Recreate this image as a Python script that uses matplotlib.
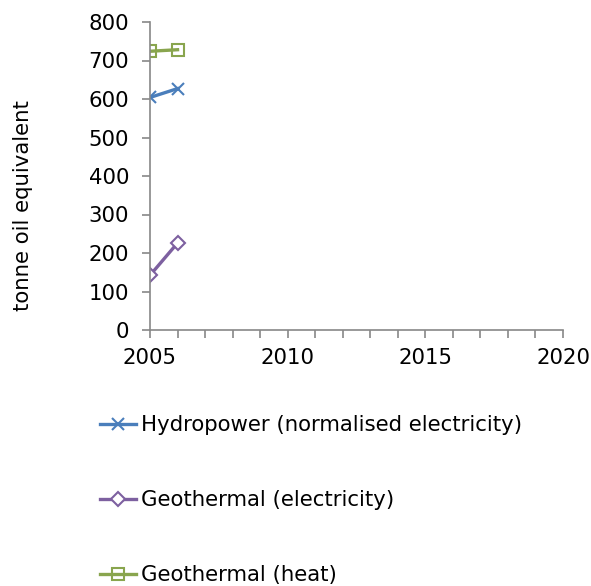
import matplotlib
matplotlib.use("Agg")
import matplotlib.pyplot as plt
from matplotlib.ticker import MultipleLocator

years = [2005, 2006]
hydro = [604, 627]
geo_elec = [142, 226]
geo_heat = [724, 728]
labels = ["Hydropower (normalised electricity)", "Geothermal (electricity)", "Geothermal (heat)"]
colors = ["#4A7EBB", "#7D60A0", "#89A54E"]

plt.rcParams['font.family'] = ['DejaVu Sans']
fig = plt.figure(figsize=(5.91, 5.86), dpi=100)
W, H = 591, 586
ax = fig.add_axes([150 / W, 1 - 330 / H, (563 - 150) / W, (330 - 22) / H])

ax.plot(years, hydro, color=colors[0], lw=2.4, marker='x', ms=9, mew=1.5, label=labels[0])
ax.plot(years, geo_elec, color=colors[1], lw=2.4, marker='D', ms=7, mfc='white', mew=1.5, label=labels[1])
ax.plot(years, geo_heat, color=colors[2], lw=2.4, marker='s', ms=9, mfc='none', mew=1.5, label=labels[2])

ax.set_xlim(2005, 2020)
ax.set_ylim(0, 800)
ax.xaxis.set_major_locator(MultipleLocator(5))
ax.xaxis.set_minor_locator(MultipleLocator(1))
ax.yaxis.set_major_locator(MultipleLocator(100))
for s in ['top', 'right']:
    ax.spines[s].set_visible(False)
for s in ['left', 'bottom']:
    ax.spines[s].set_color('#888888')
    ax.spines[s].set_linewidth(1.2)
ax.tick_params(axis='both', which='both', direction='out', color='#888888', width=1.2, labelsize=15.3)
ax.tick_params(axis='y', length=6, pad=9)
ax.tick_params(axis='x', which='major', length=6, pad=7)
ax.tick_params(axis='x', which='minor', length=6)
ax.patch.set_alpha(0)

fig.text(23 / W, 1 - 206 / H, "tonne oil equivalent", rotation=90, ha='center', va='center', fontsize=15.3)

fig.legend(loc='upper left', bbox_to_anchor=(100 / W, 1 - 415 / H), frameon=False,
           fontsize=15.3, labelspacing=2.6, handlelength=1.7, handletextpad=0.25,
           borderaxespad=0, borderpad=0)

fig.savefig("out.png", dpi=100)
